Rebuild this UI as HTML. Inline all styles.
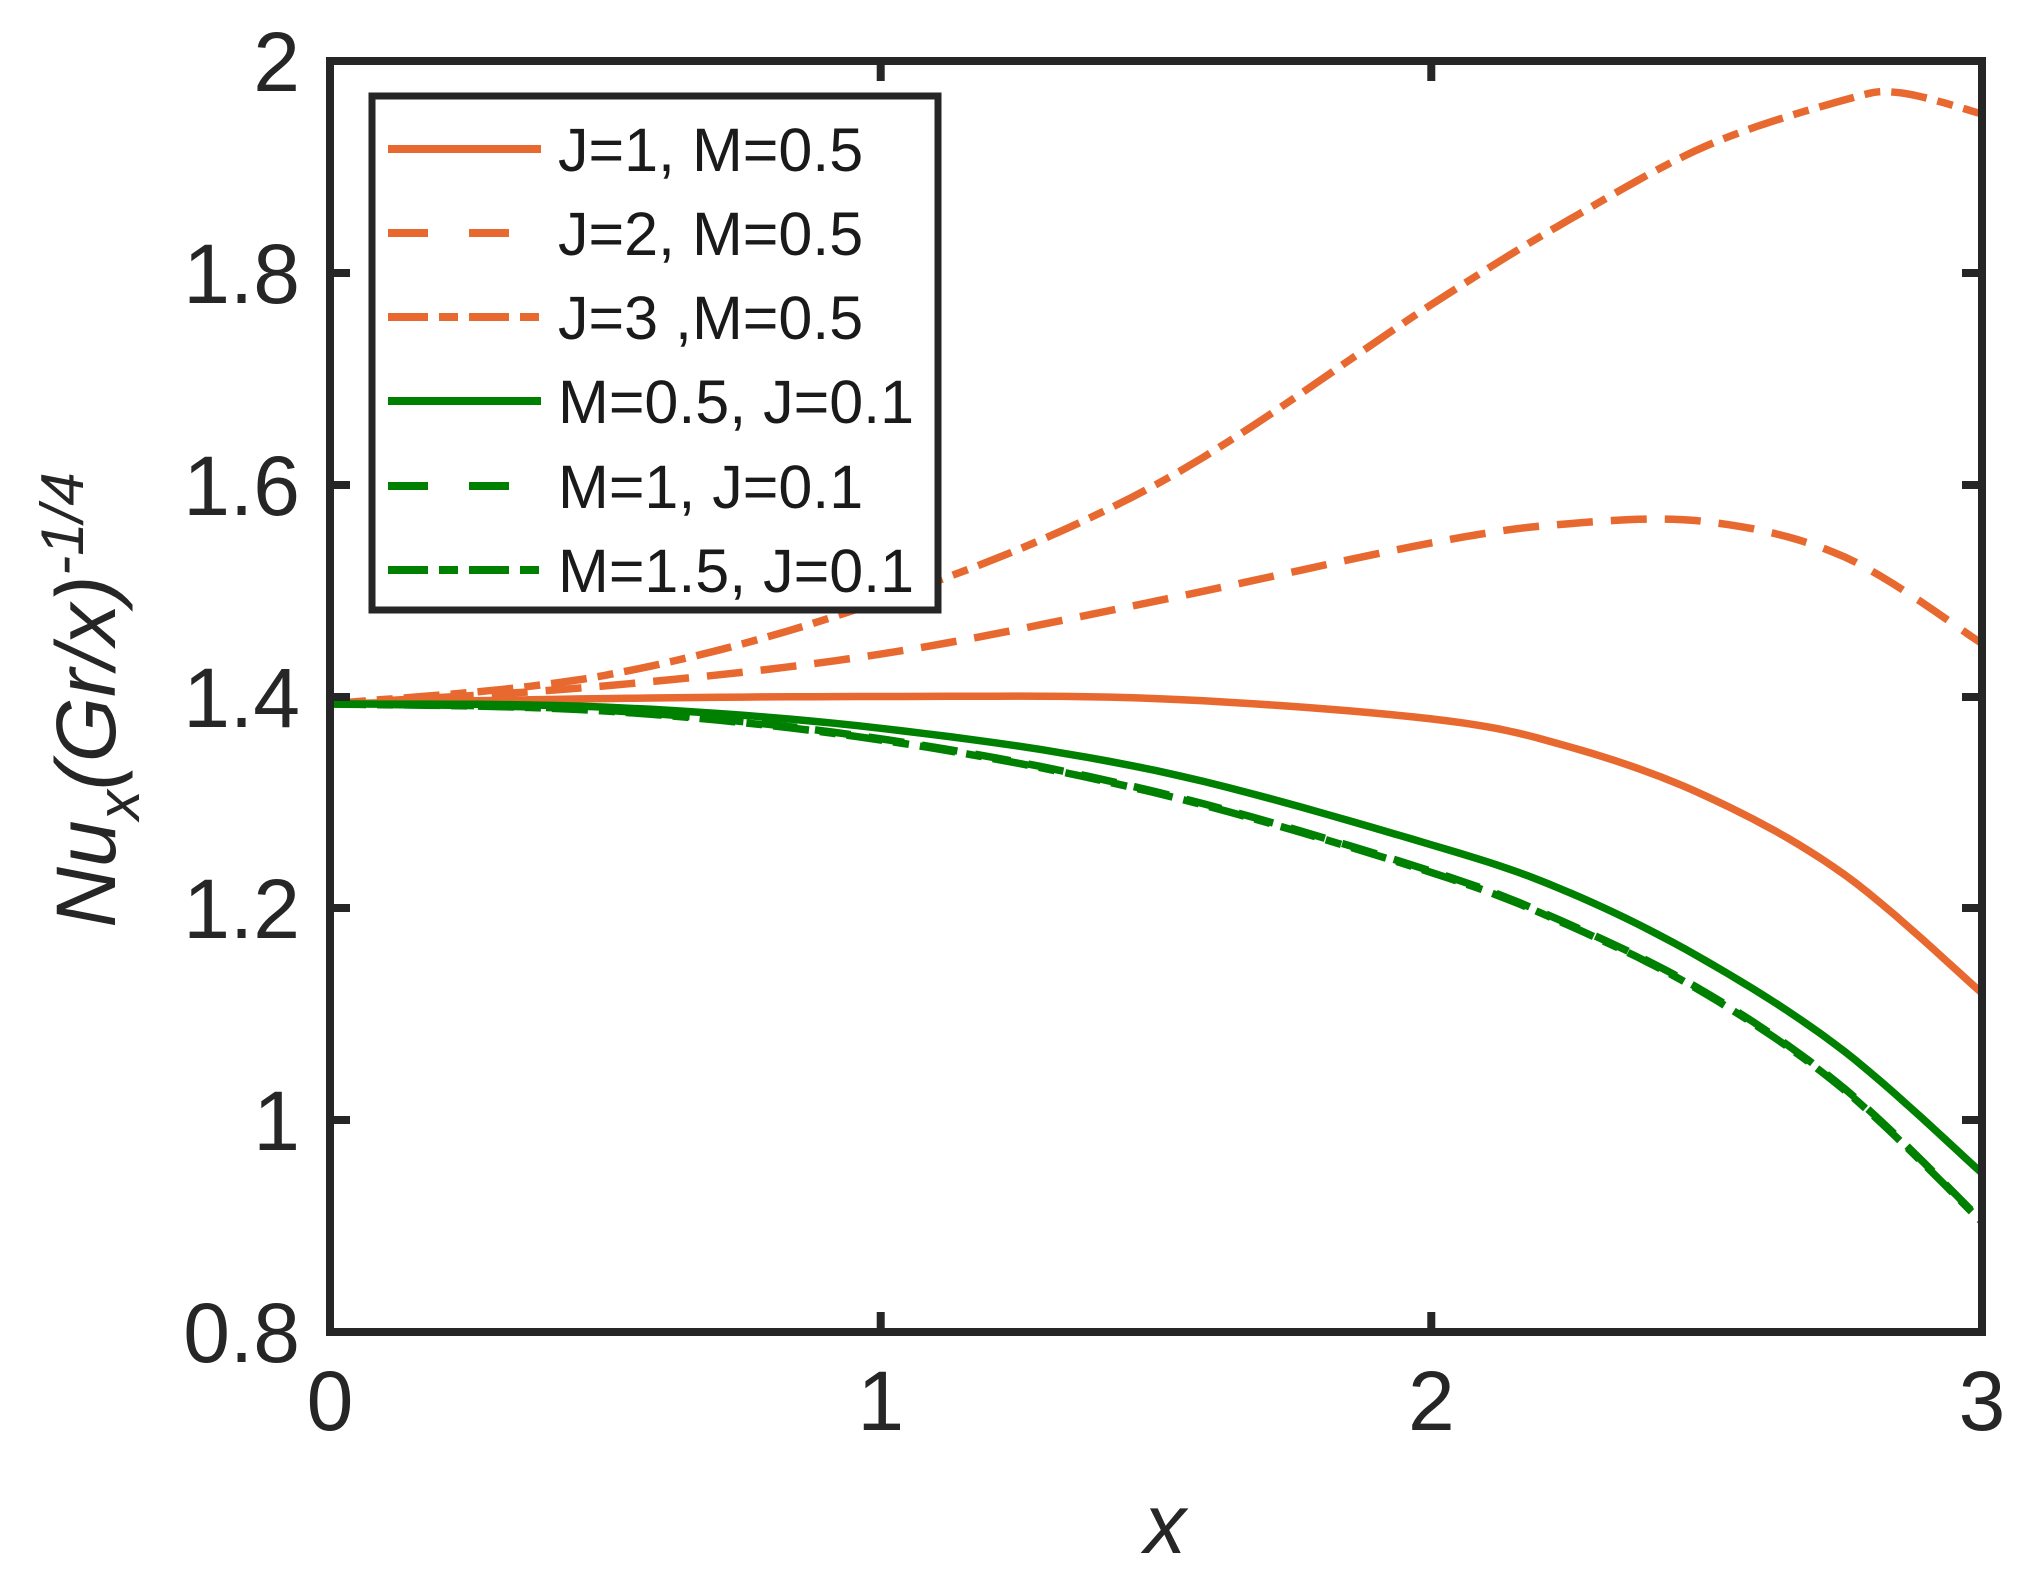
<!DOCTYPE html>
<html><head><meta charset="utf-8"><style>html,body{margin:0;padding:0;background:#fff}</style></head>
<body>
<svg width="2024" height="1577" xmlns="http://www.w3.org/2000/svg" font-family="Liberation Sans, Arial, sans-serif">
<rect width="2024" height="1577" fill="#fff"/>
<g fill="none" stroke-width="7.5" stroke-linejoin="round">
<polyline class="s" stroke="#e8692f" points="330,703.9 605.3,698.6 880.7,696.5 1156,698.6 1431.3,718.9 1569,746.7 1706.7,796.4 1844.3,874.5 1982,993.1"/>
<polyline class="s" stroke="#e8692f" stroke-dasharray="36 18" points="330,703.9 605.3,685.9 880.7,654.1 1156,601.1 1431.3,542.9 1569,523.7 1706.7,521.7 1844.3,556.8 1982,643.5"/>
<polyline class="s" stroke="#e8692f" stroke-dasharray="36 11 16 11" points="330,703.9 605.3,675.3 880.7,601.1 1156,484.6 1431.3,304.6 1569,219.8 1706.7,145.7 1844.3,100 1899.4,92.7 1982,113.9"/>
<polyline class="s" stroke="#008000" points="330,703.9 605.3,707.1 880.7,728.3 1156,770.6 1431.3,844.8 1569,892.4 1706.7,961.3 1844.3,1051.3 1982,1173.1"/>
<polyline class="s" stroke="#008000" stroke-dasharray="36 18" points="330,703.9 605.3,710.2 880.7,738.8 1156,791.8 1431.3,871.2 1569,924.2 1706.7,993.1 1844.3,1088.4 1982,1220.8"/>
<polyline class="s" stroke="#008000" stroke-dasharray="36 11 16 11" points="330,703.9 605.3,711 880.7,740 1156,793 1431.3,872.5 1569,925.5 1706.7,994.5 1844.3,1090 1982,1222"/>
</g>
<g stroke="#262626" stroke-width="8" fill="none">
<rect x="330" y="61" width="1652" height="1271"/>
<path d="M880.7,1332v-20M1431.3,1332v-20M880.7,61v20M1431.3,61v20M330,1120h20M330,908h20M330,697h20M330,485h20M330,273h20M1982,1120h-20M1982,908h-20M1982,697h-20M1982,485h-20M1982,273h-20"/>
</g>
<g font-size="84" fill="#262626" text-anchor="end">
<text x="300" y="1362">0.8</text>
<text x="300" y="1150">1</text>
<text x="300" y="938">1.2</text>
<text x="300" y="727">1.4</text>
<text x="300" y="515">1.6</text>
<text x="300" y="303">1.8</text>
<text x="300" y="91">2</text>
</g>
<g font-size="84" fill="#262626" text-anchor="middle">
<text x="330" y="1430">0</text>
<text x="880.7" y="1430">1</text>
<text x="1431.3" y="1430">2</text>
<text x="1982" y="1430">3</text>
<text x="1165" y="1553" font-style="italic">x</text>
</g>
<text transform="translate(115,700) rotate(-90)" text-anchor="middle" font-size="84" font-style="italic" fill="#262626">Nu<tspan font-size="60" dy="24">x</tspan><tspan dy="-24">(Gr/x)</tspan><tspan font-size="60" dy="-32">-1/4</tspan></text>
<rect x="372" y="96" width="566" height="514" fill="#fff" stroke="#262626" stroke-width="7"/>
<g stroke-width="8">
<line x1="388" y1="149" x2="541" y2="149" stroke="#e8692f"/>
<line x1="388" y1="233" x2="541" y2="233" stroke="#e8692f" stroke-dasharray="40 41"/>
<line x1="388" y1="317" x2="541" y2="317" stroke="#e8692f" stroke-dasharray="40 11 19 11"/>
<line x1="388" y1="401" x2="541" y2="401" stroke="#008000"/>
<line x1="388" y1="486" x2="541" y2="486" stroke="#008000" stroke-dasharray="40 41"/>
<line x1="388" y1="570" x2="541" y2="570" stroke="#008000" stroke-dasharray="40 11 19 11"/>
</g>
<g font-size="61" fill="#1a1a1a">
<text x="558" y="171">J=1, M=0.5</text>
<text x="558" y="255">J=2, M=0.5</text>
<text x="558" y="339">J=3 ,M=0.5</text>
<text x="558" y="423">M=0.5, J=0.1</text>
<text x="558" y="508">M=1, J=0.1</text>
<text x="558" y="592">M=1.5, J=0.1</text>
</g>
</svg>
<script>
document.querySelectorAll('polyline.s').forEach(function(pl){
  var p=pl.getAttribute('points').trim().split(/\s+/).map(function(s){return s.split(',').map(Number);});
  var out=[];
  for(var i=0;i<p.length-1;i++){
    var p0=p[Math.max(i-1,0)],p1=p[i],p2=p[i+1],p3=p[Math.min(i+2,p.length-1)];
    for(var k=0;k<12;k++){
      var t=k/12,t2=t*t,t3=t2*t;
      var f=function(a,b,c,d){return 0.5*((2*b)+(-a+c)*t+(2*a-5*b+4*c-d)*t2+(-a+3*b-3*c+d)*t3);};
      out.push(f(p0[0],p1[0],p2[0],p3[0]).toFixed(1)+','+f(p0[1],p1[1],p2[1],p3[1]).toFixed(1));
    }
  }
  out.push(p[p.length-1].join(','));
  pl.setAttribute('points',out.join(' '));
});
</script>
</body></html>
